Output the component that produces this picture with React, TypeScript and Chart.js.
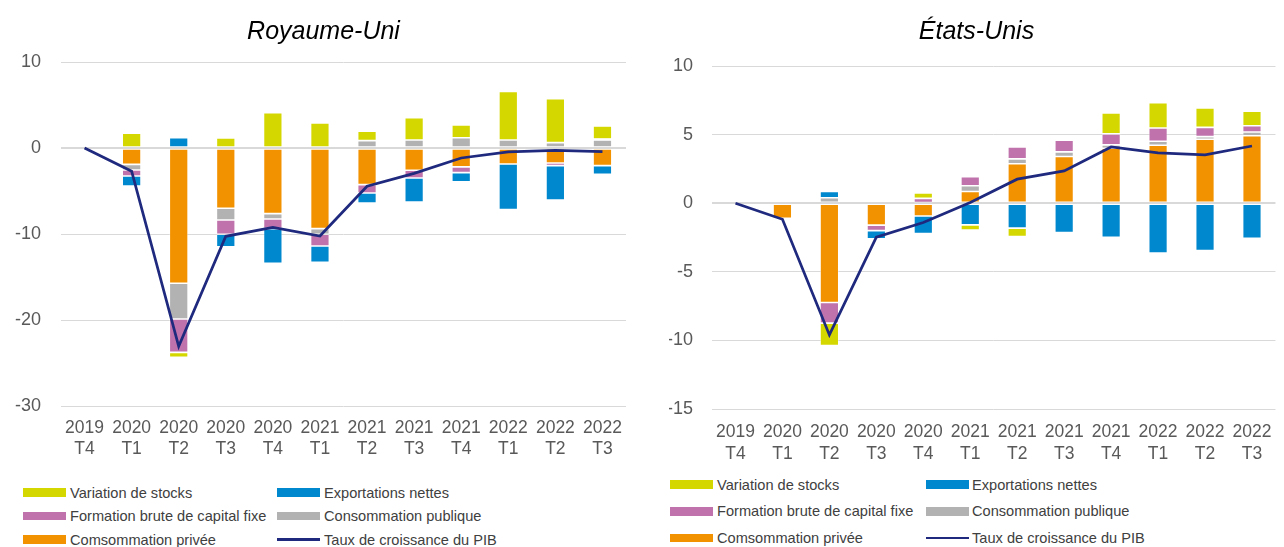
import React, { useEffect, useRef } from 'react';
import { Chart, registerables } from 'chart.js';

Chart.register(...registerables);

// ---------- data ----------
const years = ['2019', '2020', '2020', '2020', '2020', '2021', '2021', '2021', '2021', '2022', '2022', '2022'];
const quarters = ['T4', 'T1', 'T2', 'T3', 'T4', 'T1', 'T2', 'T3', 'T4', 'T1', 'T2', 'T3'];

const seriesLabels = [
  'Variation de stocks',
  'Exportations nettes',
  'Formation brute de capital fixe',
  'Consommation publique',
  'Comsommation privée',
  'Taux de croissance du PIB',
];

// Royaume-Uni
const ukPrivee = [0, -1.9, -15.73, -7.01, -7.63, -9.37, -4.26, -2.59, -2.2, -1.86, -1.74, -2.05];
const ukPublique = [0, -0.66, -4.15, -1.36, -0.62, -0.66, 0.86, 0.93, 1.2, 0.93, 0.62, 0.93];
const ukFbcf = [0, -0.7, -3.88, -1.66, -1.12, -1.37, -0.97, -0.9, -0.66, 0, -0.31, 0.12];
const ukExports = [0, -1.16, 1.2, -1.47, -4.03, -1.9, -1.16, -2.79, -1.08, -5.31, -4.0, -1.01];
const ukStocks = [0, 1.71, -0.58, 1.17, 4.11, 2.91, 1.08, 2.6, 1.48, 5.66, 5.12, 1.51];
const ukPib = [0, -2.7, -23.06, -10.27, -9.22, -10.23, -4.45, -2.95, -1.16, -0.46, -0.27, -0.42];

// États-Unis
const usPrivee = [0, -1.1, -7.24, -1.6, -0.93, 0.85, 2.88, 3.4, 4.0, 4.22, 4.66, 4.92];
const usPublique = [0, 0, 0.4, 0, 0.05, 0.42, 0.35, 0.34, 0.25, 0.3, 0.19, 0.27];
const usFbcf = [0, -0.07, -1.5, -0.4, 0.3, 0.67, 0.87, 0.85, 0.8, 0.96, 0.68, 0.46];
const usExports = [0, 0.1, 0.45, -0.6, -1.28, -1.58, -1.82, -2.14, -2.48, -3.64, -3.45, -2.55];
const usStocks = [0, -0.1, -1.63, 0.1, 0.4, -0.37, -0.61, -0.07, 1.53, 1.85, 1.41, 1.05];
const usPib = [0, -1.17, -9.6, -2.48, -1.41, 0.05, 1.75, 2.35, 4.1, 3.66, 3.52, 4.17];

// ---------- styles ----------
const FONT = '"Liberation Sans", Arial, sans-serif';
const C_STOCKS = '#D5D700';
const C_EXPORTS = '#0088CE';
const C_FBCF = '#BF72AC';
const C_PUBLIQUE = '#B2B2B2';
const C_PRIVEE = '#F39200';
const C_PIB = '#1F2A7E';
const TICK_COLOR = '#595959';
const GRID_COLOR = '#D9D9D9';

const swatchColors = [C_STOCKS, C_EXPORTS, C_FBCF, C_PUBLIQUE, C_PRIVEE, C_PIB];

type PanelProps = {
  title: string;
  privee: number[];
  publique: number[];
  fbcf: number[];
  exportsN: number[];
  stocks: number[];
  pib: number[];
  yMin: number;
  yMax: number;
  step: number;
  left: number;
  width: number;
  height: number;
  padRight: number;
  yAxisWidth: number;
  xAxisHeight: number;
  titleBottom: number;
  titleShift: number;
  xPadding: number;
  xLineHeight: number;
  yPadding: number;
};

function ChartPanel(p: PanelProps) {
  const ref = useRef<HTMLCanvasElement | null>(null);
  useEffect(() => {
    if (!ref.current) return;
    const labels = years.map((y, i) => [y, quarters[i]]);
    const barCommon = {
      type: 'bar' as const,
      stack: 'contrib',
      order: 1,
      borderColor: 'rgba(255,255,255,0.55)',
      borderWidth: 0.8,
      borderSkipped: false,
      categoryPercentage: 1,
      barPercentage: 0.4,
    };
    const titleShiftPlugin = {
      id: 'titleShift',
      afterLayout(chart: any) {
        const tb = chart.titleBlock;
        if (tb && p.titleShift) {
          tb.left += p.titleShift;
          tb.right += p.titleShift;
        }
      },
    };
    const chart = new Chart(ref.current, {
      type: 'bar',
      data: {
        labels,
        datasets: [
          {
            type: 'line',
            label: seriesLabels[5],
            data: p.pib,
            borderColor: C_PIB,
            backgroundColor: C_PIB,
            borderWidth: 2.75,
            pointRadius: 0,
            tension: 0,
            fill: false,
            stack: 'pib',
            order: 0,
          } as any,
          { ...barCommon, label: seriesLabels[4], data: p.privee, backgroundColor: C_PRIVEE },
          { ...barCommon, label: seriesLabels[3], data: p.publique, backgroundColor: C_PUBLIQUE },
          { ...barCommon, label: seriesLabels[2], data: p.fbcf, backgroundColor: C_FBCF },
          { ...barCommon, label: seriesLabels[1], data: p.exportsN, backgroundColor: C_EXPORTS },
          { ...barCommon, label: seriesLabels[0], data: p.stocks, backgroundColor: C_STOCKS },
        ],
      },
      plugins: [titleShiftPlugin],
      options: {
        responsive: true,
        maintainAspectRatio: false,
        animation: false,
        events: [],
        layout: { padding: { left: 0, right: p.padRight, top: 0, bottom: 0 } },
        plugins: {
          legend: { display: false },
          tooltip: { enabled: false },
          title: {
            display: true,
            text: p.title,
            color: '#000',
            font: { family: FONT, size: 25, style: 'italic', weight: 'normal', lineHeight: 1.2 },
            padding: { top: 17, bottom: p.titleBottom },
          },
        },
        scales: {
          x: {
            stacked: true,
            grid: { display: false, drawTicks: false },
            border: { display: false },
            ticks: {
              color: TICK_COLOR,
              font: { family: FONT, size: 17.5, lineHeight: p.xLineHeight + 'px' },
              padding: p.xPadding,
              maxRotation: 0,
              autoSkip: false,
            },
            afterFit: (s: any) => {
              s.height = p.xAxisHeight;
            },
          },
          y: {
            stacked: true,
            min: p.yMin,
            max: p.yMax,
            ticks: {
              stepSize: p.step,
              color: TICK_COLOR,
              font: { family: FONT, size: 18 },
              padding: p.yPadding,
            },
            grid: {
              color: GRID_COLOR,
              lineWidth: (ctx: any) => (ctx.tick && ctx.tick.value === 0 ? 2 : 1),
              drawTicks: false,
            },
            border: { display: false },
            afterFit: (s: any) => {
              s.width = p.yAxisWidth;
            },
          },
        },
      } as any,
    });
    return () => chart.destroy();
  }, []);
  return (
    <div style={{ position: 'absolute', left: p.left, top: 0, width: p.width, height: p.height }}>
      <canvas ref={ref} />
    </div>
  );
}

type LegendProps = {
  col1Swatch: number;
  col1Text: number;
  col2Swatch: number;
  col2Text: number;
  rows: number[];
};

function Legend(l: LegendProps) {
  const items: any[] = [];
  seriesLabels.forEach((name, i) => {
    const row = Math.floor(i / 2);
    const col = i % 2;
    const cy = l.rows[row];
    const sx = col === 0 ? l.col1Swatch : l.col2Swatch;
    const tx = col === 0 ? l.col1Text : l.col2Text;
    const isLine = i === 5;
    const h = isLine ? 2.5 : 8.5;
    items.push(
      <div
        key={'s' + i}
        style={{
          position: 'absolute',
          left: sx,
          top: cy - h / 2,
          width: 42.5,
          height: h,
          background: swatchColors[i],
        }}
      />
    );
    items.push(
      <div
        key={'t' + i}
        style={{
          position: 'absolute',
          left: tx,
          top: cy - 9,
          height: 18,
          lineHeight: '18px',
          fontSize: 14.6,
          fontFamily: FONT,
          color: '#404040',
          whiteSpace: 'nowrap',
        }}
      >
        {name}
      </div>
    );
  });
  return <>{items}</>;
}

export default function App() {
  return (
    <div
      style={{
        position: 'fixed',
        left: 0,
        top: 0,
        width: 1284,
        height: 547,
        overflow: 'hidden',
        background: '#fff',
        fontFamily: FONT,
      }}
    >
      <ChartPanel
        title="Royaume-Uni"
        privee={ukPrivee}
        publique={ukPublique}
        fbcf={ukFbcf}
        exportsN={ukExports}
        stocks={ukStocks}
        pib={ukPib}
        yMin={-30}
        yMax={10}
        step={10}
        left={0}
        width={647}
        height={470}
        padRight={21}
        yAxisWidth={61}
        xAxisHeight={64}
        titleBottom={15}
        titleShift={10.5}
        xPadding={11.8}
        xLineHeight={21}
        yPadding={20}
      />
      <ChartPanel
        title="États-Unis"
        privee={usPrivee}
        publique={usPublique}
        fbcf={usFbcf}
        exportsN={usExports}
        stocks={usStocks}
        pib={usPib}
        yMin={-15}
        yMax={10}
        step={5}
        left={669}
        width={615}
        height={470}
        padRight={1}
        yAxisWidth={43}
        xAxisHeight={61}
        titleBottom={19}
        titleShift={0.5}
        xPadding={12.5}
        xLineHeight={22}
        yPadding={19}
      />
      <Legend col1Swatch={23} col1Text={70} col2Swatch={277} col2Text={324} rows={[492.5, 516, 539.5]} />
      <Legend col1Swatch={670} col1Text={717} col2Swatch={926} col2Text={972} rows={[484.5, 511.3, 537.8]} />
    </div>
  );
}
